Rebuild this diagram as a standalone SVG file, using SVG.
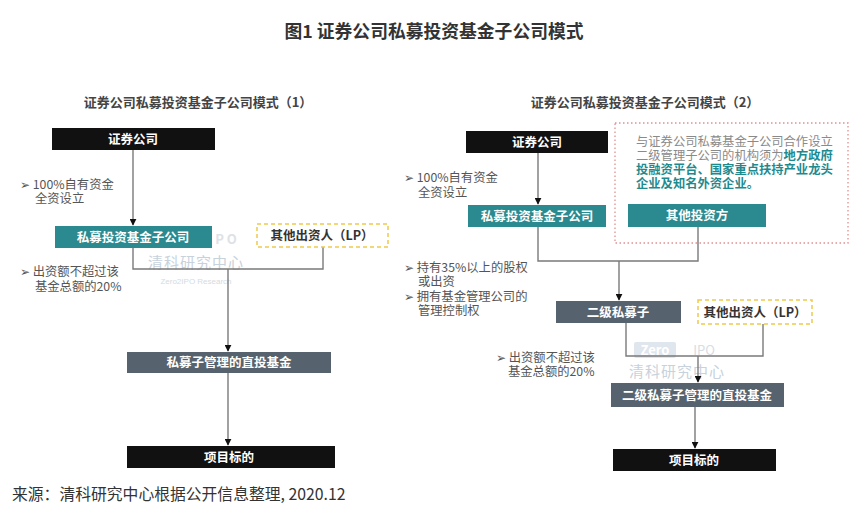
<svg xmlns="http://www.w3.org/2000/svg" width="866" height="520" viewBox="0 0 866 520">
<defs>
<marker id="arr" viewBox="0 0 10 10" refX="9" refY="5" markerWidth="7" markerHeight="7" markerUnits="userSpaceOnUse" orient="auto">
<path d="M0,0 L10,5 L0,10 z" fill="#111"/>
</marker>
<style>
text{font-family:"Noto Sans CJK SC","Noto Sans",sans-serif}
.title{font-size:17.8px;font-weight:bold;fill:#333}
.sub{font-size:13px;font-weight:bold;fill:#444}
.box{font-size:12.5px;font-weight:bold;fill:#fff}
.dark{font-size:12.5px;font-weight:bold;fill:#333}
.note{font-size:12.3px;fill:#555}
.blk{fill:#111}
.teal{fill:#2a8a8f}
.slate{fill:#56636e}
.lp{fill:#fff;stroke:#f0c94a;stroke-width:1.5;stroke-dasharray:4 3}
.line{fill:none;stroke:#7a7a7a;stroke-width:1.4}
.wm{fill:#c8d2dc;font-size:15px}
.wms{fill:#d5dbe0;font-size:8px;font-family:"Liberation Sans",sans-serif}
.foot{font-size:15.8px;fill:#333}
.bd{font-weight:bold;fill:#1f8a8e}
.gr{font-size:12.3px;fill:#8a8a8a}
</style>
</defs>
<rect width="866" height="520" fill="#fff"/>
<text class="title" x="434" y="38" text-anchor="middle">图1 证券公司私募投资基金子公司模式</text>

<g id="watermarks">
<text x="226" y="244" text-anchor="middle" font-family="Liberation Sans" font-weight="bold" font-size="13" fill="#dde2e7">P O</text>
<text class="wm" x="196" y="268" text-anchor="middle" letter-spacing="1">清科研究中心</text>
<text class="wms" x="196" y="284" text-anchor="middle">Zero2IPO Research</text>
<rect x="634" y="342" width="42" height="16" rx="2" fill="#dfe6ee"/>
<text x="655" y="355" text-anchor="middle" font-family="Liberation Sans" font-weight="bold" font-size="13" fill="#fff">Zero</text>
<text x="704" y="355" text-anchor="middle" font-family="Liberation Sans" font-size="13" fill="#d7dde3">IPO</text>
<text class="wm" x="677" y="377" text-anchor="middle" letter-spacing="1">清科研究中心</text>
</g>

<g id="panel1">
<text class="sub" x="198" y="107" text-anchor="middle">证券公司私募投资基金子公司模式（1）</text>
<text class="note" x="20" y="189">➢ 100%自有资金<tspan x="35" dy="14">全资设立</tspan></text>
<text class="note" x="20" y="276">➢ 出资额不超过该<tspan x="35" dy="15">基金总额的20%</tspan></text>
</g>

<g id="panel2">
<text class="sub" x="645" y="107" text-anchor="middle">证券公司私募投资基金子公司模式（2）</text>
<text class="note" x="404" y="182">➢ 100%自有资金<tspan x="418" dy="15">全资设立</tspan></text>
<text class="note" x="404" y="272">➢ 持有35%以上的股权<tspan x="418" dy="14">或出资</tspan><tspan x="404" dy="15">➢ 拥有基金管理公司的</tspan><tspan x="418" dy="14">管理控制权</tspan></text>
<text class="note" x="496" y="362">➢ 出资额不超过该<tspan x="508" dy="14">基金总额的20%</tspan></text>
</g>

<g id="connectors">
<path class="line" d="M133,150 V225" marker-end="url(#arr)"/>
<path class="line" d="M133,248 V269 H323 V247"/>
<path class="line" d="M228,269 V351" marker-end="url(#arr)"/>
<path class="line" d="M228,373 V445" marker-end="url(#arr)"/>
<path class="line" d="M538,153 V204" marker-end="url(#arr)"/>
<path class="line" d="M538,227 V261 H698 V227"/>
<path class="line" d="M619,261 V300" marker-end="url(#arr)"/>
<path class="line" d="M626,323 V356 H763 V324"/>
<path class="line" d="M698,356 V382" marker-end="url(#arr)"/>
<path class="line" d="M695,407 V448" marker-end="url(#arr)"/>
</g>

<g id="n1-sec">
<rect class="blk" x="52" y="128" width="163" height="22"/>
<text class="box" x="133" y="143.5" text-anchor="middle">证券公司</text>
</g>
<g id="n1-sub">
<rect class="teal" x="55" y="226" width="157" height="22"/>
<text class="box" x="133" y="241.5" text-anchor="middle">私募投资基金子公司</text>
</g>
<g id="n1-lp">
<rect class="lp" x="257" y="224" width="131" height="23"/>
<text class="dark" x="322" y="240" text-anchor="middle">其他出资人（LP）</text>
</g>
<g id="n1-fund">
<rect class="slate" x="127" y="352" width="204" height="21"/>
<text class="box" x="229" y="367" text-anchor="middle">私募子管理的直投基金</text>
</g>
<g id="n1-target">
<rect class="blk" x="127" y="446" width="208" height="22"/>
<text class="box" x="229" y="461.5" text-anchor="middle">项目标的</text>
</g>

<g id="n2-note">
<rect x="615" y="123" width="233" height="120" fill="none" stroke="#e09090" stroke-width="1.3" stroke-dasharray="1.5 2.5"/>
<text class="gr" x="636" y="146">与证券公司私募基金子公司合作设立<tspan x="636" dy="14">二级管理子公司的机构须为</tspan><tspan class="bd">地方政府</tspan><tspan class="bd" x="636" dy="14">投融资平台、国家重点扶持产业龙头</tspan><tspan class="bd" x="636" dy="14">企业及知名外资企业。</tspan></text>
</g>
<g id="n2-sec">
<rect class="blk" x="466" y="131" width="142" height="22"/>
<text class="box" x="537" y="146.5" text-anchor="middle">证券公司</text>
</g>
<g id="n2-sub">
<rect class="teal" x="468" y="205" width="138" height="22"/>
<text class="box" x="537" y="220.5" text-anchor="middle">私募投资基金子公司</text>
</g>
<g id="n2-other">
<rect class="teal" x="628" y="204" width="138" height="23"/>
<text class="box" x="697" y="220" text-anchor="middle">其他投资方</text>
</g>
<g id="n2-second">
<rect class="slate" x="556" y="301" width="125" height="22"/>
<text class="box" x="618" y="316.5" text-anchor="middle">二级私募子</text>
</g>
<g id="n2-lp">
<rect class="lp" x="698" y="300" width="114" height="24"/>
<text class="dark" x="755" y="316.5" text-anchor="middle">其他出资人（LP）</text>
</g>
<g id="n2-fund">
<rect class="slate" x="611" y="383" width="173" height="24"/>
<text class="box" x="697" y="399.5" text-anchor="middle">二级私募子管理的直投基金</text>
</g>
<g id="n2-target">
<rect class="blk" x="613" y="449" width="163" height="22"/>
<text class="box" x="694" y="464.5" text-anchor="middle">项目标的</text>
</g>

<text class="foot" x="12" y="500">来源：清科研究中心根据公开信息整理, 2020.12</text>
</svg>
